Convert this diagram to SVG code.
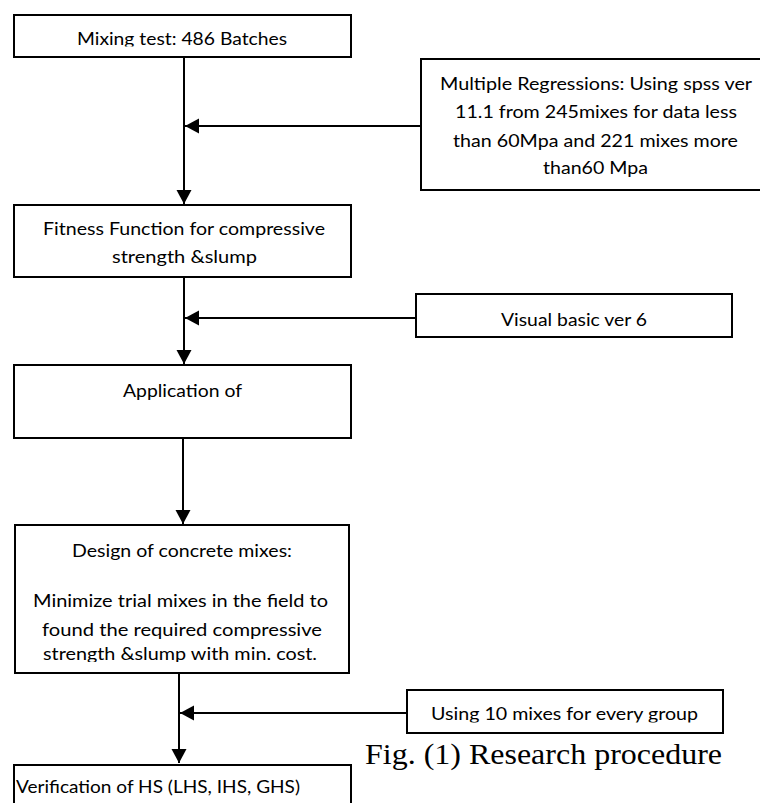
<svg xmlns="http://www.w3.org/2000/svg" width="760" height="803" viewBox="0 0 760 803">
<style>
.box{fill:#fff;stroke:#000;stroke-width:2}
.t{font-family:Lato,"Open Sans","Liberation Sans",sans-serif;font-size:16.5px;fill:#000}
.conn{stroke:#000;stroke-width:2;fill:none;marker-end:url(#ah)}
.cap{font-family:"Liberation Serif","Times New Roman",serif;font-size:29px;fill:#000}
</style>
<defs>
<marker id="ah" markerUnits="userSpaceOnUse" markerWidth="16" markerHeight="16" refX="14" refY="7.5" orient="auto">
<path d="M0,0 L14,7.5 L0,15 Z" fill="#000"/>
</marker>
<clipPath id="c1"><rect x="0" y="0" width="760" height="46.5"/></clipPath>
<clipPath id="c13"><rect x="0" y="500" width="760" height="162"/></clipPath>
<clipPath id="c14"><rect x="0" y="690" width="760" height="32.5"/></clipPath>
<clipPath id="c15"><rect x="15.5" y="760" width="760" height="50"/></clipPath>
</defs>
<g id="connectors">
<line class="conn" x1="184" y1="57" x2="184" y2="204"/>
<line class="conn" x1="421" y1="126" x2="185" y2="126"/>
<line class="conn" x1="184" y1="277" x2="184" y2="364"/>
<line class="conn" x1="416" y1="318" x2="185" y2="318"/>
<line class="conn" x1="183" y1="438" x2="183" y2="524"/>
<line class="conn" x1="179" y1="673" x2="179" y2="763"/>
<line class="conn" x1="407" y1="713" x2="180" y2="713"/>
</g>
<g id="mixing-test">
<rect class="box" x="14" y="15" width="337" height="42"/>
<text class="t" x="77" y="45" textLength="210" lengthAdjust="spacingAndGlyphs" clip-path="url(#c1)">Mixing test: 486 Batches</text>
</g>
<g id="multiple-regressions">
<rect class="box" x="421" y="59" width="345" height="131"/>
<text class="t" x="440" y="90" textLength="312" lengthAdjust="spacingAndGlyphs">Multiple Regressions: Using spss ver</text>
<text class="t" x="455" y="118" textLength="282" lengthAdjust="spacingAndGlyphs">11.1 from 245mixes for data less</text>
<text class="t" x="453" y="147" textLength="285" lengthAdjust="spacingAndGlyphs">than 60Mpa and 221 mixes more</text>
<text class="t" x="543" y="174" textLength="105" lengthAdjust="spacingAndGlyphs">than60 Mpa</text>
</g>
<g id="fitness-function">
<rect class="box" x="14" y="205" width="337" height="72"/>
<text class="t" x="43" y="235" textLength="282" lengthAdjust="spacingAndGlyphs">Fitness Function for compressive</text>
<text class="t" x="112" y="263" textLength="145" lengthAdjust="spacingAndGlyphs">strength &amp;slump</text>
</g>
<g id="visual-basic">
<rect class="box" x="416" y="294" width="316" height="43"/>
<text class="t" x="501" y="326" textLength="146" lengthAdjust="spacingAndGlyphs">Visual basic ver 6</text>
</g>
<g id="application">
<rect class="box" x="14" y="365" width="337" height="73"/>
<text class="t" x="123" y="397" textLength="119" lengthAdjust="spacingAndGlyphs">Application of</text>
</g>
<g id="design-mixes">
<rect class="box" x="15" y="525" width="334" height="148"/>
<text class="t" x="72" y="557" textLength="220" lengthAdjust="spacingAndGlyphs">Design of concrete mixes:</text>
<text class="t" x="33" y="607" textLength="295" lengthAdjust="spacingAndGlyphs">Minimize trial mixes in the field to</text>
<text class="t" x="42" y="636" textLength="280" lengthAdjust="spacingAndGlyphs">found the required compressive</text>
<text class="t" x="43" y="660" textLength="274" lengthAdjust="spacingAndGlyphs" clip-path="url(#c13)">strength &amp;slump with min. cost.</text>
</g>
<g id="using-10-mixes">
<rect class="box" x="407" y="690" width="316" height="43"/>
<text class="t" x="431" y="720" textLength="267" lengthAdjust="spacingAndGlyphs" clip-path="url(#c14)">Using 10 mixes for every group</text>
</g>
<g id="verification">
<rect class="box" x="14" y="765" width="337" height="60"/>
<text class="t" x="16" y="793" textLength="284" lengthAdjust="spacingAndGlyphs" clip-path="url(#c15)">Verification of HS (LHS, IHS, GHS)</text>
</g>
<text class="cap" x="365" y="764" textLength="357" lengthAdjust="spacingAndGlyphs">Fig. (1) Research procedure</text>
</svg>
